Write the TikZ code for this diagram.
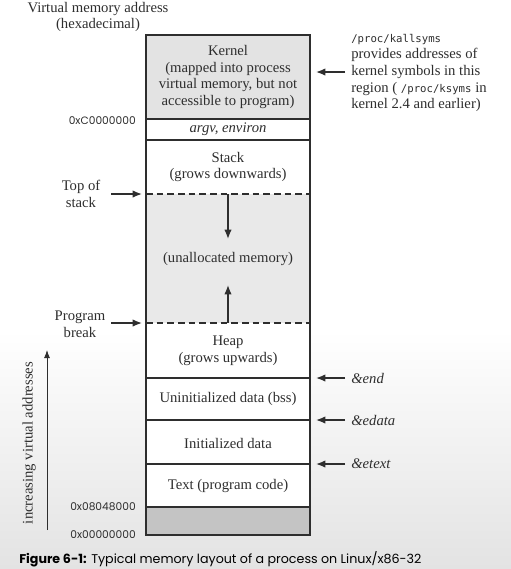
\documentclass[tikz,border=0pt]{standalone}
\usepackage{fontspec}
\setmainfont{Liberation Serif}
\newfontfamily\hexfont{Poppins}
\newfontfamily\monofont{DejaVu Sans Mono}
\usetikzlibrary{positioning,arrows.meta}

\definecolor{inkgray}{HTML}{2E2E2E}
\definecolor{kernelgray}{HTML}{E3E3E3}
\definecolor{freegray}{HTML}{E9E9E9}
\definecolor{nullgray}{HTML}{C4C4C4}

\tikzset{
	lbl/.style={inner sep=0pt, text=inkgray, align=center, font=\fontsize{11}{12.4}\selectfont},
	note/.style={lbl, align=left, anchor=west},
	hex/.style={inner sep=0pt, text=inkgray, anchor=east, font=\hexfont\fontsize{8}{9}\selectfont},
	ptr/.style={-{Latex[length=7pt,width=5.5pt]}, line width=1pt, draw=inkgray},
	wall/.style={draw=inkgray, line width=0.9pt},
	gap/.style={wall, dash pattern=on 5pt off 3pt}
}

\begin{document}
\begin{tikzpicture}[x=0.75pt, y=-0.75pt]
	\useasboundingbox (0,0) rectangle (511,569);
	\fill[white] (0,0) rectangle (511,330);
	\shade[top color=white, bottom color=black!11] (0,330) rectangle (511,569);

	% memory regions: top / bottom / fill
	\def\myRegions{35/119/kernelgray, 119/140/white, 140/194/white, 194/323/freegray, 323/378/white, 378/420/white, 420/464/white, 464/507/white, 507/535/nullgray}
	\foreach \top/\bot/\col in \myRegions
		\fill[\col] (146,\top) rectangle (310,\bot);
	\foreach \y in {119, 140, 378, 420, 464, 507}
		\draw[wall] (146,\y) -- (310,\y);
	\foreach \y in {194, 323}
		\draw[gap] (146,\y) -- (310,\y);
	\draw[wall] (146,35) rectangle (310,535);

	% region labels
	\node[lbl] (kernel) at (228,77) {Kernel\\(mapped into process\\virtual memory, but not\\accessible to program)};
	\node[lbl] (args) at (228,129) {\textit{argv, environ}};
	\node[lbl] (stack) at (228,167) {Stack\\(grows downwards)};
	\node[lbl] (free) at (228,259) {(unallocated memory)};
	\node[lbl] (heap) at (228,351) {Heap\\(grows upwards)};
	\node[lbl] (bss) at (228,399) {Uninitialized data (bss)};
	\node[lbl] (data) at (228,443) {Initialized data};
	\node[lbl] (text) at (228,486) {Text (program code)};

	% growth arrows
	\coordinate (stackTop) at (228,194);
	\coordinate (stackTip) at (228,239);
	\coordinate (brk) at (228,323);
	\coordinate (brkTip) at (228,285);
	\draw[ptr] (stackTop) -- (stackTip);
	\draw[ptr] (brk) -- (brkTip);

	% left side
	\node[lbl] (title) at (98,17) {Virtual memory address\\(hexadecimal)};
	\node[hex] (hexKernel) at (136,121) {0xC0000000};
	\node[hex] (hexText) at (136,507) {0x08048000};
	\node[hex] (hexZero) at (136,535) {0x00000000};
	\node[lbl] (topStack) at (81,194) {Top of\\stack};
	\node[lbl] (progBreak) at (80,324) {Program\\break};
	\coordinate (topStackTail) at (111,194);
	\coordinate (topStackHead) at (142,194);
	\coordinate (breakTail) at (111,323);
	\coordinate (breakHead) at (142,323);
	\draw[ptr] (topStackTail) -- (topStackHead);
	\draw[ptr] (breakTail) -- (breakHead);

	\coordinate (lowAddr) at (47,530);
	\coordinate (highAddr) at (47,350);
	\draw[-{Latex[length=6pt,width=4.5pt]}, draw=inkgray, line width=0.7pt] (lowAddr) -- (highAddr);
	\node[lbl, rotate=90] (increasing) at (29,443) {increasing virtual addresses};

	% right side
	\node[note] (kallsyms) at (351,73) {{\monofont\fontsize{8}{9}\selectfont /proc/kallsyms}\\provides addresses of\\kernel symbols in this\\region ( {\monofont\fontsize{8}{9}\selectfont /proc/ksyms} in\\kernel 2.4 and earlier)};
	\node[note] (endSym) at (351,378) {\textit{\&end}};
	\node[note] (edataSym) at (351,420) {\textit{\&edata}};
	\node[note] (etextSym) at (351,464) {\textit{\&etext}};
	\foreach \y/\tail in {72/kallsymsTail, 378/endTail, 420/edataTail, 464/etextTail}
	{
		\coordinate (\tail) at (345,\y);
		\draw[ptr] (\tail) -- (316,\y);
	}

	\node[inner sep=0pt, anchor=west, text=black, font=\hexfont\fontsize{9.5}{11}\selectfont] (caption) at (19,559) {\textbf{Figure 6-1:} Typical memory layout of a process on Linux/x86-32};
\end{tikzpicture}
\end{document}
